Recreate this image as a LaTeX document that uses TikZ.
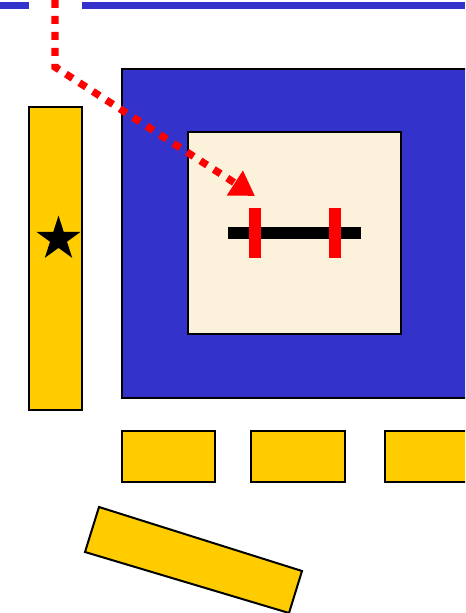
\documentclass[tikz,border=0pt]{standalone}
\usepackage{xcolor}
\usetikzlibrary{shapes.geometric, arrows.meta}
\definecolor{planblue}{HTML}{3333CC}
\definecolor{planyellow}{HTML}{FFCC00}
\definecolor{planred}{HTML}{FF0000}
\definecolor{plancream}{HTML}{FCF1DB}

\begin{document}
\begin{tikzpicture}[x=0.75pt, y=-0.75pt,
                    block/.style={draw=black, line width=1.5pt},
                    mark bar/.style={planred, line width=9pt}]

  \useasboundingbox (0,0) rectangle (465,613);

  %% 上方的藍色邊線，中間留一個缺口
  \fill[planblue] (0,2) rectangle (29,9);
  \fill[planblue] (82,2) rectangle (465,9);

  %% 大的藍色方塊，右邊超出畫面
  \begin{scope}
    \clip (0,0) rectangle (465,613);
    \filldraw[block, fill=planblue] (122,69) rectangle (470,398);
    \filldraw[block, fill=planyellow] (385,431) rectangle (470,482);
  \end{scope}

  %% 裡面的米色方塊
  \filldraw[block, fill=plancream] (188,132) rectangle (401,334);

  %% 黑色橫桿與兩條紅色標記
  \draw[black, line width=9pt] (228,233) -- (361,233);
  \draw[mark bar] (255,208) -- (255,258);
  \draw[mark bar] (335,208) -- (335,258);

  %% 左邊直立的黃色長條與星號
  \filldraw[block, fill=planyellow] (29,107) rectangle (82,410);
  \node[star, star points=5, star point ratio=2.62, fill=black,
        inner sep=0pt, minimum size=35pt] (star) at (58.5,239) {};

  %% 下方的黃色方塊
  \filldraw[block, fill=planyellow] (122,431) rectangle (215,482);
  \filldraw[block, fill=planyellow] (251,431) rectangle (345,482);

  %% 斜放的黃色長條
  \filldraw[block, fill=planyellow, line join=miter]
    (99,507) -- (302,571) -- (289,613) -- (85,552) -- cycle;

  %% 紅色虛線箭頭
  \coordinate (entry) at (55,0);
  \coordinate (bend) at (55,67);
  \coordinate (target) at (255,196);
  \draw[planred, line width=5.5pt, dash pattern=on 6pt off 6pt,
        -{Triangle[length=18pt, width=21pt]}]
    (entry) -- (bend) -- (target);

\end{tikzpicture}
\end{document}
